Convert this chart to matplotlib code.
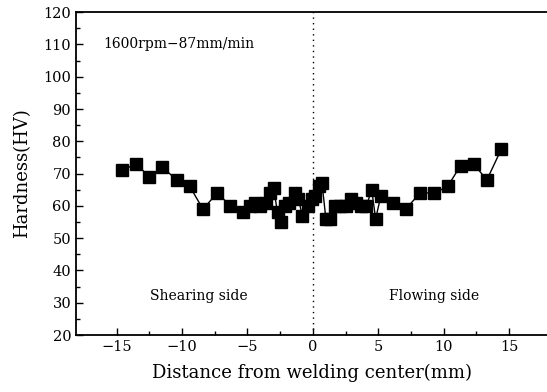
import matplotlib
matplotlib.use("Agg")
import matplotlib.pyplot as plt
from matplotlib.ticker import FixedLocator, MultipleLocator

distance = [-14.6, -13.5, -12.5, -11.5, -10.4, -9.4, -8.4, -7.3, -6.3, -5.3,
            -4.8, -4.4, -4.0, -3.6, -3.3, -3.0, -2.7, -2.4, -2.1, -1.8,
            -1.4, -1.1, -0.8, -0.4, -0.1, 0.2, 0.5, 0.7, 1.0, 1.3,
            1.7, 2.1, 2.5, 2.9, 3.3, 3.7, 4.1, 4.5, 4.8, 5.2,
            6.1, 7.1, 8.2, 9.3, 10.3, 11.3, 12.3, 13.3, 14.4]
hardness = [71, 73, 69, 72, 68, 66, 59, 64, 60, 58,
            60, 61, 60, 61, 64, 65.5, 58, 55, 60, 61,
            64, 62, 57, 60, 62, 63, 66, 67, 56, 56,
            60, 60, 60, 62, 61, 60, 60, 65, 56, 63,
            61, 59, 64, 64, 66, 72.5, 73, 68, 77.5]

xticks = [-15, -10, -5, 0, 5, 10, 15]
xminor = [-12.5, -7.5, -2.5, 2.5, 7.5, 12.5]
yticks = [20, 30, 40, 50, 60, 70, 80, 90, 100, 110, 120]

plt.rcParams['font.family'] = ['DejaVu Serif']

fig = plt.figure(figsize=(5.47, 3.92), dpi=100)
ax = fig.add_axes([0.139, 0.1454, 0.861, 0.8236])

ax.plot(distance, hardness, color='black', linewidth=1.0, marker='s',
        markersize=8, markerfacecolor='black', markeredgecolor='black')
ax.axvline(0, color='black', linestyle=(0, (1, 3)), linewidth=1.0)

ax.set_xlim(-18.1, 17.9)
ax.set_ylim(20, 120)
ax.set_xticks(xticks)
ax.set_xticklabels(['\u221215', '\u221210', '\u22125', '0', '5', '10', '15'])
ax.set_yticks(yticks)
ax.xaxis.set_minor_locator(FixedLocator(xminor))
ax.yaxis.set_minor_locator(MultipleLocator(5))
ax.tick_params(which='both', direction='in', top=False, right=False,
               labelsize=10.5, width=1.0)
ax.tick_params(which='major', length=5)
ax.tick_params(which='minor', length=3)
ax.spines['right'].set_visible(False)
for s in ['left', 'bottom', 'top']:
    ax.spines[s].set_linewidth(1.3)

ax.set_xlabel('Distance from welding center(mm)', fontsize=13, labelpad=7)
ax.set_ylabel('Hardness(HV)', fontsize=13, labelpad=9)

ax.text(-16.0, 110, '1600rpm\u221287mm/min', fontsize=10, va='center', ha='left')
ax.text(-8.7, 32, 'Shearing side', fontsize=10, va='center', ha='center')
ax.text(9.3, 32, 'Flowing side', fontsize=10, va='center', ha='center')

fig.savefig('out.png', dpi=100)
